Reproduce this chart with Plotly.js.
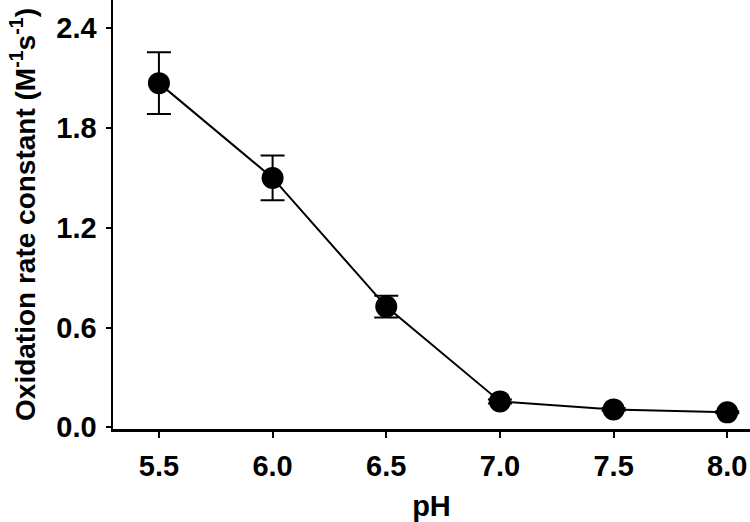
<!DOCTYPE html>
<html>
<head>
<meta charset="utf-8">
<script src="https://cdn.plot.ly/plotly-3.0.1.min.js"></script>
<style>html,body{margin:0;padding:0;background:#fff;}#chart{width:750px;height:522px;}</style>
</head>
<body>
<div id="chart"></div>
<script>
const pH = [5.5, 6.0, 6.5, 7.0, 7.5, 8.0];
const rate = [2.07, 1.50, 0.726, 0.156, 0.108, 0.09];
const err = [0.186, 0.135, 0.066, 0.012, 0.008, 0.006];
const xTicks = [5.5, 6.0, 6.5, 7.0, 7.5, 8.0];
const xTickText = ["5.5", "6.0", "6.5", "7.0", "7.5", "8.0"];
const yTicks = [0, 0.6, 1.2, 1.8, 2.4];
const yTickText = ["0.0", "0.6", "1.2", "1.8", "2.4"];

const font = {family: "Liberation Sans, Arial, sans-serif", size: 29, color: "#000", weight: "bold"};
const yTitleFont = {family: "Liberation Sans, Arial, sans-serif", size: 28, color: "#000", weight: "bold"};

Plotly.newPlot("chart", [{
  x: pH, y: rate, type: "scatter", mode: "lines+markers",
  line: {color: "#000", width: 2},
  marker: {color: "#000", size: 22},
  error_y: {type: "data", array: err, visible: true, color: "#000", thickness: 2, width: 12}
}], {
  width: 750, height: 522,
  margin: {l: 113, r: 0, t: 0, b: 93},
  paper_bgcolor: "#fff", plot_bgcolor: "#fff",
  showlegend: false,
  xaxis: {
    range: [5.298, 8.1], tickvals: xTicks, ticktext: xTickText,
    showline: true, linecolor: "#000", linewidth: 2.5, showgrid: false, zeroline: false,
    ticks: "outside", ticklen: 6, tickwidth: 2, tickcolor: "#000",
    tickfont: font, ticklabelstandoff: 4,
    title: {text: "pH", font: font, standoff: 16}
  },
  yaxis: {
    range: [-0.01, 2.57], tickvals: yTicks, ticktext: yTickText,
    showline: true, linecolor: "#000", linewidth: 2.5, showgrid: false, zeroline: false,
    ticks: "outside", ticklen: 5, tickwidth: 2, tickcolor: "#000",
    tickfont: font, ticklabelstandoff: 3,
    title: {text: "Oxidation rate constant (M<sup>-1</sup>s<sup>-1</sup>)", font: yTitleFont, standoff: 13}
  }
}, {staticPlot: true, displayModeBar: false});
</script>
</body>
</html>
